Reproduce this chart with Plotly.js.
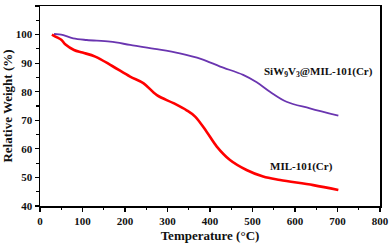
<!DOCTYPE html>
<html><head><meta charset="utf-8">
<script src="https://cdn.plot.ly/plotly-3.0.1.min.js"></script>
<style>html,body{margin:0;padding:0;background:#fff}#c{width:390px;height:244px}</style>
</head><body><div id="c"></div>
<script>
const milT = [28, 40, 50, 60, 80, 100, 130, 170, 212, 243, 275, 314, 345, 365, 392, 416, 447, 486, 525, 565, 643, 702];
const milW = [100, 99, 98.2, 96.5, 94.6, 93.7, 92.3, 89, 85.3, 83, 78.8, 76, 73.5, 71.3, 66, 60.8, 56.1, 52.6, 50.3, 49.1, 47.3, 45.6];
const sivT = [33, 45, 55, 78, 110, 165, 212, 270, 329, 380, 424, 478, 510, 541, 580, 635, 702];
const sivW = [100.2, 100.1, 99.8, 98.7, 98.1, 97.5, 96.4, 95, 93.4, 91.4, 88.8, 85.9, 83.3, 80, 76.5, 74.2, 71.6];
const labels = ['SiW<sub>9</sub>V<sub>3</sub>@MIL-101(Cr)', 'MIL-101(Cr)'];
const labelX = [655, 616];
const labelY = [86.9, 53.8];
const xTicks = [0, 100, 200, 300, 400, 500, 600, 700, 800];
const yTicks = [40, 50, 60, 70, 80, 90, 100, 110];

const font = {family: '"Liberation Serif", "Times New Roman", serif', color: '#111'};
const traces = [
  {x: sivT, y: sivW, mode: 'lines', line: {color: '#6a35b0', width: 1.8, shape: 'spline'}, hoverinfo: 'skip'},
  {x: milT, y: milW, mode: 'lines', line: {color: '#ff0000', width: 2.6, shape: 'spline'}, hoverinfo: 'skip'}
];
const axBase = {showgrid: false, zeroline: false, showline: true, linecolor: '#000', linewidth: 1.5,
  mirror: true, ticks: 'outside', ticklen: 4, tickwidth: 1.2, tickcolor: '#000',
  tickfont: Object.assign({}, font, {size: 11, weight: 'bold'})};
const layout = {
  width: 390, height: 244, margin: {l: 40, r: 10, t: 6, b: 38},
  paper_bgcolor: '#fff', plot_bgcolor: '#fff', showlegend: false,
  xaxis: Object.assign({}, axBase, {range: [0, 800], tickvals: xTicks, ticktext: xTicks.map(String),
    minor: {tickvals: [50,150,250,350,450,550,650,750], ticks: 'outside', ticklen: 2.5, tickcolor: '#000'},
    title: {text: '<b>Temperature (°C)</b>', font: Object.assign({}, font, {size: 13}), standoff: 5}}),
  yaxis: Object.assign({}, axBase, {range: [40, 110], tickvals: yTicks, ticktext: yTicks.map(String),
    minor: {tickvals: [45,55,65,75,85,95,105], ticks: 'outside', ticklen: 2.5, tickcolor: '#000'},
    title: {text: '<b>Relative Weight (%)</b>', font: Object.assign({}, font, {size: 13}), standoff: 4}}),
  annotations: labels.map((t, i) => ({x: labelX[i], y: labelY[i], xref: 'x', yref: 'y', text: '<b>' + t + '</b>',
    showarrow: false, font: Object.assign({}, font, {size: 11})}))
};
Plotly.newPlot('c', traces, layout, {staticPlot: true, displayModeBar: false});
</script></body></html>
